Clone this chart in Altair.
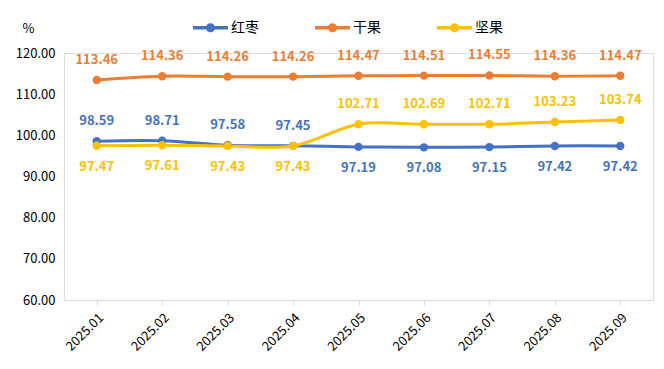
import altair as alt
import pandas as pd

months = ["2025.01", "2025.02", "2025.03", "2025.04", "2025.05",
          "2025.06", "2025.07", "2025.08", "2025.09"]
series_names = ["红枣", "干果", "坚果"]
hongzao = [98.59, 98.71, 97.58, 97.45, 97.19, 97.08, 97.15, 97.42, 97.42]
ganguo = [113.46, 114.36, 114.26, 114.26, 114.47, 114.51, 114.55, 114.36, 114.47]
jianguo = [97.47, 97.61, 97.43, 97.43, 102.71, 102.69, 102.71, 103.23, 103.74]
colors = ["#4472C4", "#ED7D31", "#FFC000"]

vals = {"红枣": hongzao, "干果": ganguo, "坚果": jianguo}
rows = []
for i, m in enumerate(months):
    month_vals = [vals[s][i] for s in series_names]
    low = min(month_vals)
    for s in series_names:
        v = vals[s][i]
        rows.append({"month": m, "series": s, "value": v,
                     "pos": "below" if v == low else "above"})
df = pd.DataFrame(rows)

FONT = "Noto Sans CJK SC"
legend_path = ("M -1 -0.095 L 1 -0.095 L 1 0.095 L -1 0.095 Z "
               "M 0.26 0 A 0.26 0.26 0 1 1 -0.26 0 A 0.26 0.26 0 1 1 0.26 0 Z")

x = alt.X("month:N", sort=months, title=None,
          scale=alt.Scale(paddingInner=0, paddingOuter=0),
          axis=alt.Axis(labelAngle=-45, bandPosition=0, domainColor="#D9D9D9",
                        tickColor="#D9D9D9", tickSize=5, labelFontSize=13,
                        labelColor="#000000", labelPadding=6, grid=False,
                        labelFont=FONT))
y = alt.Y("value:Q", title="%",
          scale=alt.Scale(domain=[60, 120], nice=False, zero=False),
          axis=alt.Axis(values=[60, 70, 80, 90, 100, 110, 120], format=".2f",
                        grid=False, domain=False, ticks=False, labelPadding=9,
                        labelFontSize=13, labelColor="#000000", labelFont=FONT,
                        titleAngle=0, titleX=-36, titleY=-25, titleAlign="center",
                        titleBaseline="middle", titleFontSize=13,
                        titleFontWeight="normal", titleFont=FONT,
                        titleColor="#000000"))
color = alt.Color("series:N", scale=alt.Scale(domain=series_names, range=colors),
                  legend=alt.Legend(title=None, orient="none", direction="horizontal",
                                    legendX=129, legendY=-43, symbolType=legend_path,
                                    symbolSize=1225, symbolStrokeWidth=0,
                                    symbolOpacity=1,
                                    labelFontSize=14, labelFont=FONT,
                                    labelColor="#000000", columnPadding=56,
                                    labelOffset=3, padding=0))

base = alt.Chart(df)
lines = base.mark_line(interpolate="catmull-rom", strokeWidth=3).encode(
    x=x, y=y, color=color)
points = base.mark_point(filled=True, size=70, opacity=1).encode(
    x=x, y=y, color=color)
above = base.transform_filter(alt.datum.pos == "above").mark_text(
    dy=-20, fontSize=13, fontWeight="bold", font=FONT).encode(
    x=x, y=y, text=alt.Text("value:Q", format=".2f"), color=color)
below = base.transform_filter(alt.datum.pos == "below").mark_text(
    dy=21, fontSize=13, fontWeight="bold", font=FONT).encode(
    x=x, y=y, text=alt.Text("value:Q", format=".2f"), color=color)

chart = alt.layer(lines, points, above, below).properties(
    width=589, height=247,
    autosize=alt.AutoSizeParams(type="none"),
    padding={"left": 56, "top": 45, "right": 3, "bottom": 61},
).configure_view(stroke=None).configure(background="#FFFFFF")

chart.save("out.html", embed_options={"renderer": "svg", "actions": False})
